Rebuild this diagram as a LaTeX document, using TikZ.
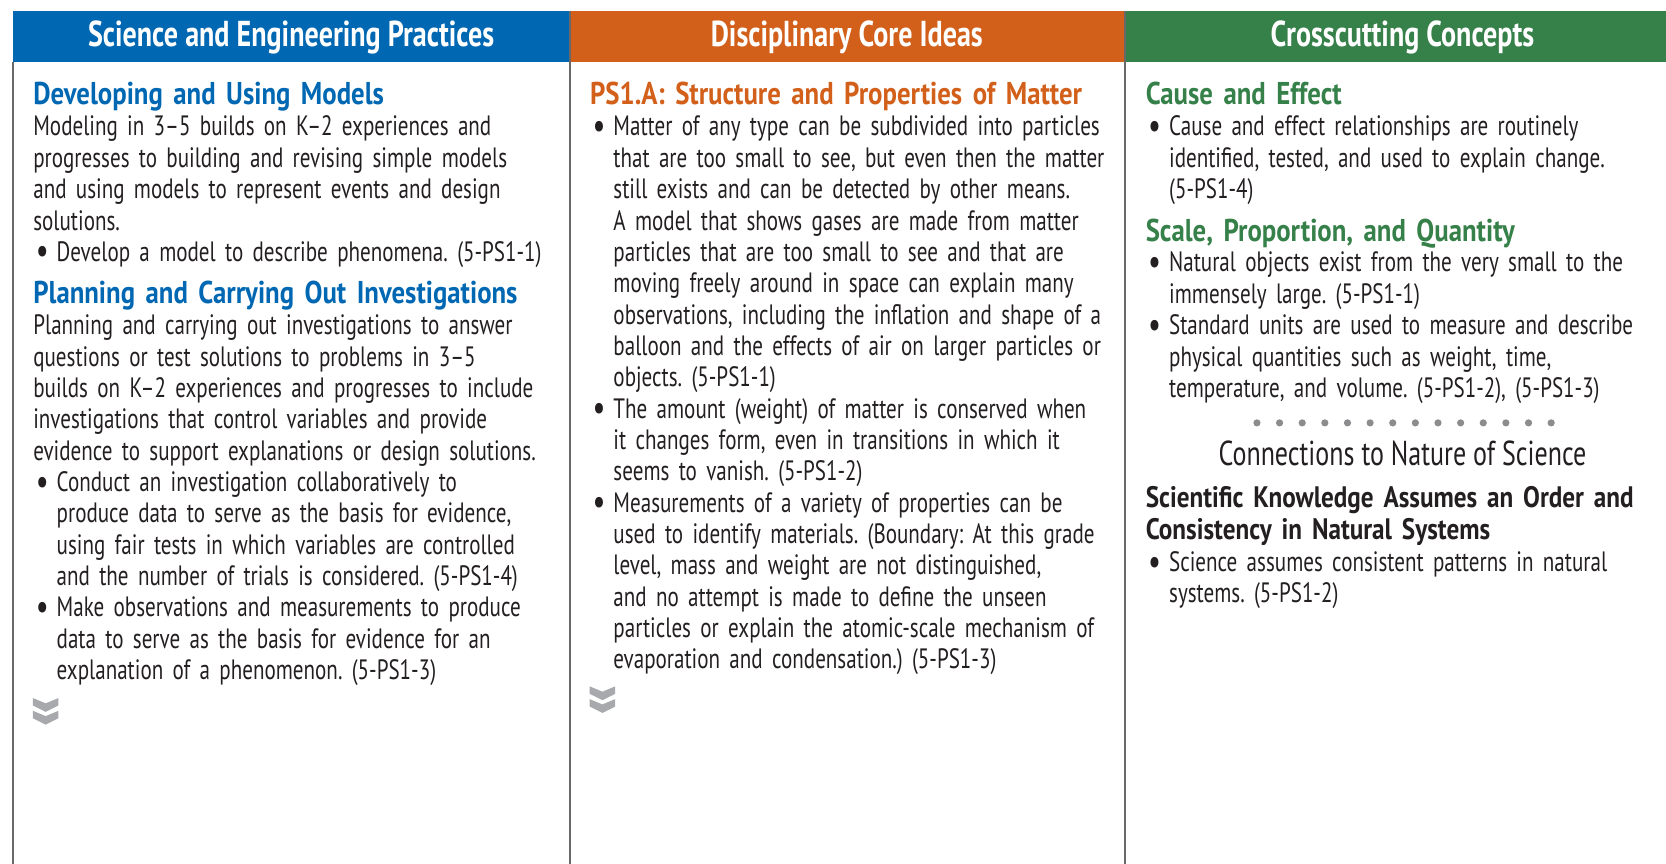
\documentclass[tikz,border=0pt]{standalone}
\usepackage{fontspec}
\setmainfont{PT Sans}[FakeStretch=0.752]
\newfontfamily\hdfont{PT Sans}[FakeStretch=0.85]
\newfontfamily\barfont{PT Sans}[FakeStretch=0.78]
\definecolor{sepblue}{RGB}{0,103,178}
\definecolor{dciorange}{RGB}{210,96,27}
\definecolor{ccgreen}{RGB}{54,128,73}
\definecolor{rulegray}{RGB}{105,105,105}
\definecolor{dotgray}{RGB}{140,140,142}
\definecolor{chevgray}{RGB}{168,169,172}
\definecolor{inkgray}{RGB}{35,31,32}
\newcommand{\bul}{\llap{\raisebox{-1.3pt}{\fontsize{19}{0}\selectfont\textbullet}\hspace{4pt}}}
\frenchspacing

\begin{document}
\begin{tikzpicture}[x=0.53125pt,y=-0.53125pt]
    \tikzstyle{bar}=[inner sep=0pt,anchor=base,text=white,font=\barfont\bfseries\fontsize{18}{20}\selectfont]
    \tikzstyle{txt}=[inner sep=0pt,anchor=base west,align=left,text width=300pt,text=inkgray,font=\fontsize{14}{15.67}\selectfont]
    \tikzstyle{hd}=[txt,font=\hdfont\bfseries\fontsize{15.75}{15.67}\selectfont]
    \useasboundingbox (0,0) rectangle (1568,813);

    % header bars
    \fill[sepblue] (12,10) rectangle (536,58);
    \fill[dciorange] (536,10) rectangle (1059,58);
    \fill[ccgreen] (1059,10) rectangle (1568,58);
    \node[bar] (H-sep) at (274,44) {Science and Engineering Practices};
    \node[bar] (H-dci) at (797,44) {Disciplinary Core Ideas};
    \node[bar] (H-cc) at (1320,44) {Crosscutting Concepts};

    % frame
    \draw[rulegray,line width=1pt] (12,58) -- (12,813);
    \foreach \x in {536,1059}
        \draw[rulegray,line width=1pt] (\x,10) -- (\x,813);

    % practices
    \node[hd,text=sepblue] (P-models) at (31,98) {Developing and Using Models};
    \node[txt] (P-models-t) at (31,128) {Modeling in 3--5 builds on K--2 experiences and\\progresses to building and revising simple models\\and using models to represent events and design\\solutions.};
    \node[txt] (P-models-b) at (53,246) {\bul Develop a model to describe phenomena. (5-PS1-1)};
    \node[hd,text=sepblue] (P-invest) at (31,286) {Planning and Carrying Out Investigations};
    \node[txt] (P-invest-t) at (31,315) {Planning and carrying out investigations to answer\\questions or test solutions to problems in 3--5\\builds on K--2 experiences and progresses to include\\investigations that control variables and provide\\evidence to support explanations or design solutions.};
    \node[txt] (P-invest-b1) at (53,462.5) {\bul Conduct an investigation collaboratively to\\produce data to serve as the basis for evidence,\\using fair tests in which variables are controlled\\and the number of trials is considered. (5-PS1-4)};
    \node[txt] (P-invest-b2) at (53,580.5) {\bul Make observations and measurements to produce\\data to serve as the basis for evidence for an\\explanation of a phenomenon. (5-PS1-3)};

    % core ideas
    \node[hd,text=dciorange] (D-ps1a) at (555,98) {PS1.A: Structure and Properties of Matter};
    \node[txt] (D-ps1a-b1) at (577,128) {\bul Matter of any type can be subdivided into particles\\that are too small to see, but even then the matter\\still exists and can be detected by other means.\\A model that shows gases are made from matter\\particles that are too small to see and that are\\moving freely around in space can explain many\\observations, including the inflation and shape of a\\balloon and the effects of air on larger particles or\\objects. (5-PS1-1)};
    \node[txt] (D-ps1a-b2) at (577,393.5) {\bul The amount (weight) of matter is conserved when\\it changes form, even in transitions in which it\\seems to vanish. (5-PS1-2)};
    \node[txt] (D-ps1a-b3) at (577,482) {\bul Measurements of a variety of properties can be\\used to identify materials. (Boundary: At this grade\\level, mass and weight are not distinguished,\\and no attempt is made to define the unseen\\particles or explain the atomic-scale mechanism of\\evaporation and condensation.) (5-PS1-3)};

    % crosscutting
    \node[hd,text=ccgreen] (C-cause) at (1078,98) {Cause and Effect};
    \node[txt] (C-cause-b) at (1100,128) {\bul Cause and effect relationships are routinely\\identified, tested, and used to explain change.\\(5-PS1-4)};
    \node[hd,text=ccgreen] (C-scale) at (1078,227) {Scale, Proportion, and Quantity};
    \node[txt] (C-scale-b1) at (1100,256) {\bul Natural objects exist from the very small to the\\immensely large. (5-PS1-1)};
    \node[txt] (C-scale-b2) at (1100,315) {\bul Standard units are used to measure and describe\\physical quantities such as weight, time,\\temperature, and volume. (5-PS1-2), (5-PS1-3)};
    \foreach \i in {0,...,13}
        \fill[dotgray] (1183+21.3*\i,398) circle (1.8pt);
    \node[txt,anchor=base,align=center,text width=,font=\fontsize{17.3}{18}\selectfont] (C-nos) at (1320,438) {Connections to Nature of Science};
    \node[hd,font=\hdfont\bfseries\fontsize{14.8}{15.67}\selectfont] (C-order) at (1078,478) {Scientific Knowledge Assumes an Order and\\Consistency in Natural Systems};
    \node[txt] (C-order-b) at (1100,538) {\bul Science assumes consistent patterns in natural\\systems. (5-PS1-2)};

    % continued marks
    \foreach \cx/\cy in {43/657,567/646}
        \foreach \dy in {0,12}
            \fill[chevgray] (\cx-12,\cy+\dy) -- (\cx,\cy+\dy+5) -- (\cx+12,\cy+\dy) -- (\cx+12,\cy+\dy+7)
                -- (\cx,\cy+\dy+13) -- (\cx-12,\cy+\dy+7) -- cycle;
\end{tikzpicture}
\end{document}
